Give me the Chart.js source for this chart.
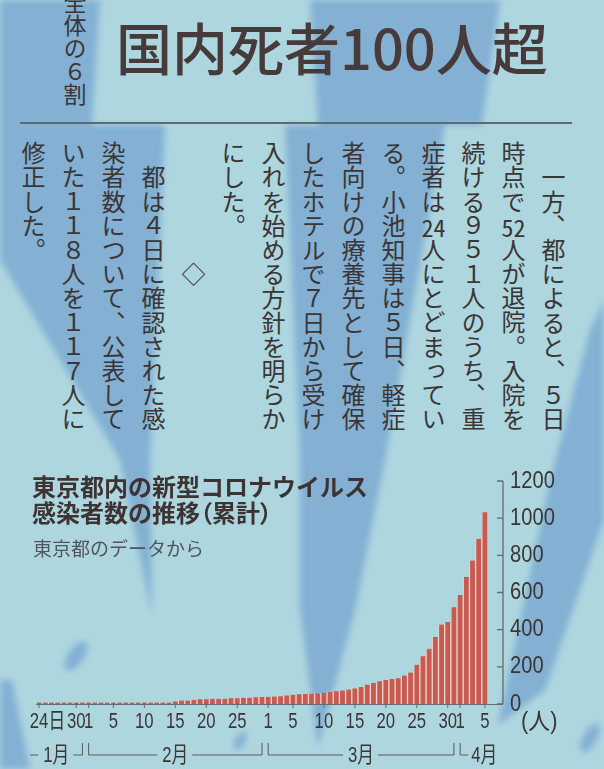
<!DOCTYPE html>
<html lang="ja">
<head>
<meta charset="utf-8">
<title>東京都内の新型コロナウイルス感染者数の推移（累計）</title>
<script src="https://cdn.jsdelivr.net/npm/chart.js"></script>
<style>
  html, body { margin: 0; padding: 0; }
  body {
    width: 604px; height: 769px; overflow: hidden; position: relative;
    background: #aed6df; color: #3b3535;
    font-family: 'Noto Sans CJK JP', sans-serif;
  }
  #paper { position: absolute; left: 0; top: 0; }
  .headline {
    position: absolute; left: 116px; top: 18px;
    font-size: 56px; line-height: 56px; font-weight: 500; color: #463a3a;
    white-space: nowrap;
  }
  .side {
    position: absolute; left: 62px; top: -9px;
    writing-mode: vertical-rl; font-size: 23px; line-height: 26px;
  }
  .rule { position: absolute; left: 20px; top: 122px; width: 552px; height: 1.5px; background: #5d6b70; }
  .article {
    position: absolute; left: 13px; top: 141px; width: 560px; height: 300px;
    writing-mode: vertical-rl; font-size: 24px; line-height: 40px; letter-spacing: 0.2px;
  }
  .tcy { text-combine-upright: all; }
  #chart { position: absolute; left: 0; top: 460px; }
  .ctitle {
    position: absolute; left: 32px; top: 473px;
    font-size: 24px; line-height: 26px; font-weight: 700; color: #3d3333; white-space: nowrap;
  }
  .palt { font-feature-settings: "palt"; }
  .csub {
    position: absolute; left: 33px; top: 538px;
    font-size: 19px; line-height: 20px; color: #4f5659; white-space: nowrap;
  }
</style>
</head>
<body>
<svg id="paper" width="604" height="769">
  <defs><filter id="soft"><feGaussianBlur stdDeviation="3"/></filter></defs>
  <g fill="#74a4d0" opacity="0.75" filter="url(#soft)">
    <polygon points="0,0 100,0 92,125 0,125"/>
    <polygon points="310,0 500,0 482,125 318,125"/>
    <polygon points="0,125 165,125 150,460 152,615 120,460 0,260"/>
    <polygon points="285,125 445,125 385,460 355,610 318,748 300,610 300,460"/>
    <polygon points="604,300 604,520 545,690 498,725 550,480 590,330"/>
    <polygon points="0,680 12,680 30,769 0,769"/>
    <ellipse cx="76" cy="656" rx="8" ry="17" transform="rotate(35 76 656)"/>
    <ellipse cx="240" cy="741" rx="5" ry="10" transform="rotate(30 240 741)"/>
    <ellipse cx="590" cy="738" rx="7" ry="16" transform="rotate(30 590 738)"/>
  </g>
</svg>

<div class="side">全体の６割</div>
<div class="headline">国内死者100人超</div>
<div class="rule"></div>
<div class="article">　一方、都によると、５日<br>時点で<span class="tcy">52</span>人が退院。入院を<br>続ける９５１人のうち、重<br>症者は<span class="tcy">24</span>人にとどまってい<br>る。小池知事は５日、軽症<br>者向けの療養先として確保<br>したホテルで７日から受け<br>入れを始める方針を明らか<br>にした。<br>　　　　　◇<br>　都は４日に確認された感<br>染者数について、公表して<br>いた１１８人を１１７人に<br>修正した。</div>

<canvas id="chart" width="604" height="309"></canvas>

<div class="ctitle">東京都内の新型コロナウイルス<br>感染者数の推移<span class="palt">（</span>累計<span class="palt">）</span></div>
<div class="csub">東京都のデータから</div>

<script>
// days from 1/24 to 4/5
const categories = [
  '1/24','1/25','1/26','1/27','1/28','1/29','1/30','1/31',
  '2/1','2/2','2/3','2/4','2/5','2/6','2/7','2/8','2/9','2/10',
  '2/11','2/12','2/13','2/14','2/15','2/16','2/17','2/18','2/19','2/20',
  '2/21','2/22','2/23','2/24','2/25','2/26','2/27','2/28','2/29',
  '3/1','3/2','3/3','3/4','3/5','3/6','3/7','3/8','3/9','3/10',
  '3/11','3/12','3/13','3/14','3/15','3/16','3/17','3/18','3/19','3/20',
  '3/21','3/22','3/23','3/24','3/25','3/26','3/27','3/28','3/29','3/30','3/31',
  '4/1','4/2','4/3','4/4','4/5'
];

// cumulative cases (people)
const cases = [
  1, 2, 2, 2, 2, 2, 3, 3,
  3, 3, 3, 3, 3, 3, 3, 3, 3, 3,
  3, 3, 4, 6, 14, 19, 19, 22, 25, 25,
  28, 28, 28, 31, 31, 33, 34, 36, 38,
  39, 40, 42, 46, 50, 53, 54, 55, 57, 60,
  64, 68, 73, 78, 84, 92, 104, 113, 122, 129,
  134, 138, 153, 169, 211, 257, 297, 360, 428, 441, 520,
  586, 683, 772, 889, 1032
];

// x tick labels
const tickDates = ['1/24','1/30','2/1','2/5','2/10','2/15','2/20','2/25',
  '3/1','3/5','3/10','3/15','3/20','3/25','3/30','4/1','4/5'];
const tickTexts = ['24日','30','1','5','10','15','20','25',
  '1','5','10','15','20','25','30','1','5'];

const monthNames = ['1月', '2月', '3月', '4月'];
const unitText = '(人)';

const NUM_FONT = "'Liberation Sans', 'Noto Sans CJK JP', sans-serif";
const INK = '#3b3535';

// condensed text: the print uses a narrow face
function narrowText(ctx, text, x, y, sx) {
  ctx.save();
  ctx.translate(x, y);
  ctx.scale(sx, 1);
  ctx.fillText(text, 0, 0);
  ctx.restore();
}

const decor = {
  id: 'decor',
  afterDraw(chart) {
    const { ctx, chartArea, scales: { x, y } } = chart;
    const zero = y.getPixelForValue(0);
    const axisX = chartArea.right + 15;
    ctx.save();

    // baseline + y axis with inward ticks
    ctx.strokeStyle = '#666b6d';
    ctx.lineWidth = 1;
    ctx.beginPath();
    ctx.moveTo(chartArea.left, zero + 0.5);
    ctx.lineTo(axisX, zero + 0.5);
    ctx.stroke();
    ctx.lineWidth = 1.3;
    ctx.beginPath();
    ctx.moveTo(axisX, y.getPixelForValue(1200));
    ctx.lineTo(axisX, zero);
    y.ticks.forEach(t => {
      const py = y.getPixelForValue(t.value);
      ctx.moveTo(axisX - 6, py);
      ctx.lineTo(axisX, py);
    });
    ctx.stroke();

    ctx.fillStyle = INK;
    ctx.textBaseline = 'middle';
    ctx.textAlign = 'left';

    // y labels
    ctx.font = '24px ' + NUM_FONT;
    y.ticks.forEach(t => {
      narrowText(ctx, String(t.value), axisX + 7, y.getPixelForValue(t.value), 0.84);
    });

    // x ticks and day labels
    ctx.font = '22px ' + NUM_FONT;
    ctx.lineWidth = 1;
    const sx = 0.76;
    tickDates.forEach((d, i) => {
      const px = x.getPixelForValue(categories.indexOf(d));
      ctx.beginPath();
      ctx.moveTo(px, zero - 1);
      ctx.lineTo(px, zero + 4);
      ctx.stroke();
      const txt = tickTexts[i];
      const num = txt.match(/^\d+/)[0];
      const w = ctx.measureText(num).width * sx;
      narrowText(ctx, txt, px - w / 2, zero + 18, sx);
    });
    ctx.font = '23px ' + NUM_FONT;
    narrowText(ctx, unitText, axisX + 18, zero + 19, 0.95);

    // month brackets
    ctx.font = '22px ' + NUM_FONT;
    const lineY = zero + 51;
    const topY = zero + 39;
    ctx.strokeStyle = '#555a5c';
    monthNames.forEach((name, i) => {
      const idx = categories.map((c, k) => parseInt(c) === i + 1 ? k : -1).filter(k => k >= 0);
      const first = i === 0 ? chartArea.left - 6 : x.getPixelForValue(idx[0]);
      const last = x.getPixelForValue(idx[idx.length - 1]);
      const w = ctx.measureText(name).width * sx;
      ctx.beginPath();
      if (i === monthNames.length - 1) {
        ctx.moveTo(first, topY);
        ctx.lineTo(first, lineY);
        ctx.lineTo(first + 8, lineY);
        ctx.stroke();
        narrowText(ctx, name, first + 11, zero + 52, sx);
        return;
      }
      const mid = (first + last) / 2;
      if (i > 0) { ctx.moveTo(first, topY); ctx.lineTo(first, lineY); } else { ctx.moveTo(first, lineY); }
      ctx.lineTo(mid - w / 2 - 5, lineY);
      ctx.moveTo(mid + w / 2 + 4, lineY);
      ctx.lineTo(last, lineY);
      ctx.lineTo(last, topY);
      ctx.stroke();
      narrowText(ctx, name, mid - w / 2, zero + 52, sx);
    });
    ctx.restore();
  }
};

new Chart(document.getElementById('chart'), {
  type: 'bar',
  data: {
    labels: categories,
    datasets: [{
      data: cases,
      backgroundColor: '#c85a50',
      borderColor: 'rgba(240,214,206,0.85)',
      borderWidth: { left: 1, right: 1, top: 0, bottom: 0 },
      barPercentage: 1,
      categoryPercentage: 1,
      minBarLength: 1.5
    }]
  },
  options: {
    responsive: false,
    animation: false,
    layout: { padding: { left: 36, top: 21, right: 0, bottom: 0 } },
    plugins: { legend: { display: false }, tooltip: { enabled: false } },
    scales: {
      x: {
        ticks: { display: false },
        grid: { display: false, drawTicks: false },
        border: { display: false },
        afterFit: s => { s.height = 65; }
      },
      y: {
        position: 'right',
        min: 0,
        max: 1200,
        ticks: { display: false, stepSize: 200 },
        grid: { display: false, drawTicks: false },
        border: { display: false },
        afterFit: s => { s.width = 116; }
      }
    }
  },
  plugins: [decor]
});
</script>
</body>
</html>
